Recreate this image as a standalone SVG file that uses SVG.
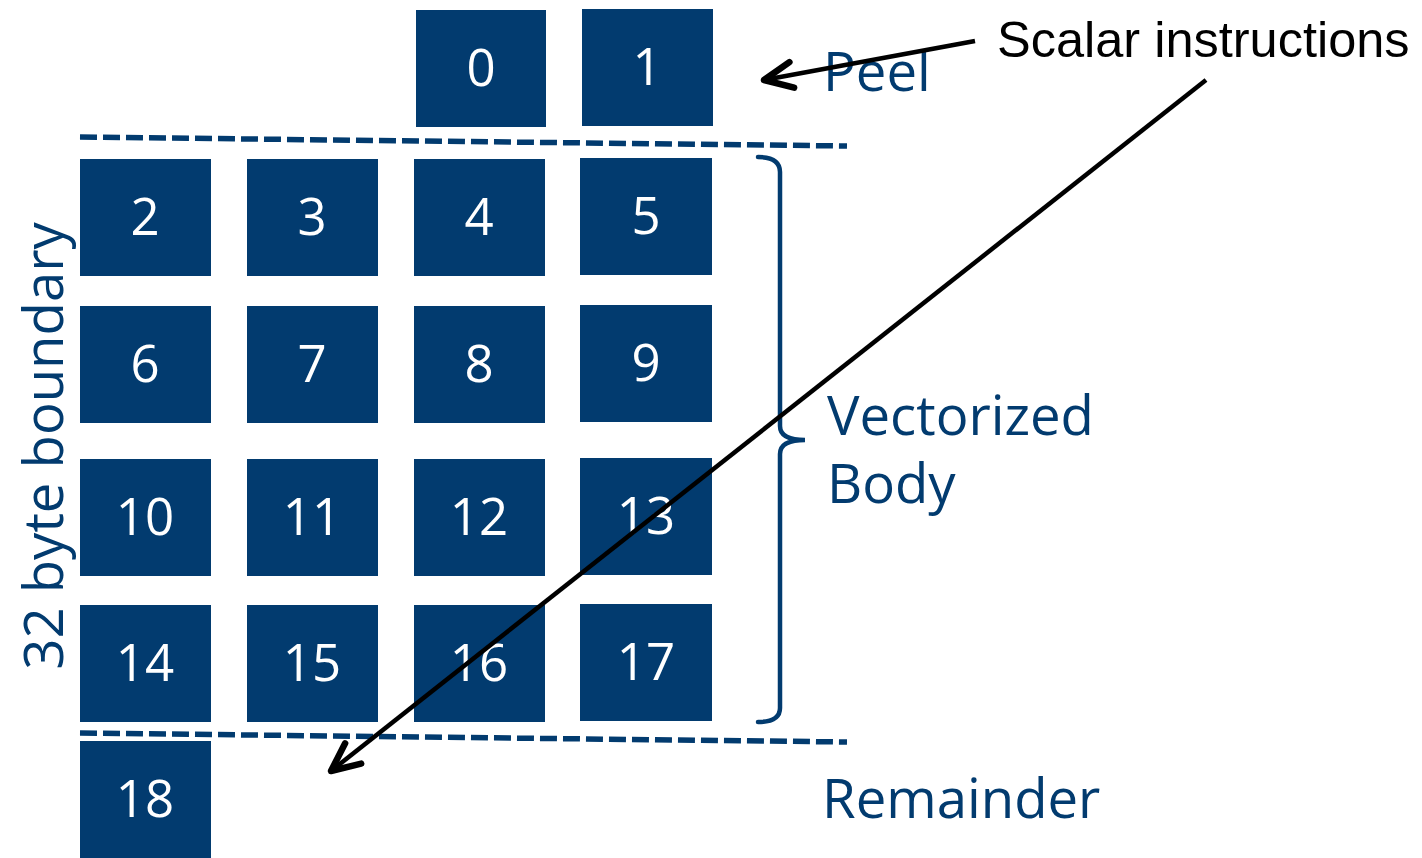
<svg xmlns="http://www.w3.org/2000/svg" width="1422" height="858" viewBox="0 0 1422 858">
  <style>
    .cell { fill: #023B6F; }
    .num { fill: #FFFFFF; font-family: "Open Sans", "Noto Sans", sans-serif; font-size: 51px; text-anchor: middle; }
    .lbl { fill: #023B6F; font-family: "Open Sans", "Noto Sans", sans-serif; font-size: 54.5px; }
    .note { fill: #000000; font-family: "Liberation Sans", Arial, sans-serif; font-size: 50.5px; }
    .split { stroke: #023B6F; stroke-width: 5.5; stroke-dasharray: 17 6; fill: none; }
    .brace { stroke: #023B6F; stroke-width: 4.5; fill: none; stroke-linecap: round; }
    .wire { stroke: #000000; stroke-width: 4.5; fill: none; }
  </style>
  <defs>
    <marker id="vhead" markerUnits="userSpaceOnUse" markerWidth="40" markerHeight="40" viewBox="-30 -15 34 30" refX="0" refY="0" orient="auto">
      <path d="M-24,-11 L0,0 L-24,11" fill="none" stroke="#000000" stroke-width="5.5" stroke-linecap="round" stroke-linejoin="round"/>
    </marker>
  </defs>

  <rect width="1422" height="858" fill="#FFFFFF"/>

  <!-- section boundaries -->
  <g id="boundaries">
    <line class="split" x1="80" y1="137" x2="847" y2="146"/>
    <line class="split" x1="80" y1="733" x2="847" y2="742"/>
  </g>

  <!-- peel elements -->
  <g id="n0"><rect class="cell" x="416" y="10" width="130" height="117"/><text class="num" x="481" y="86">0</text></g>
  <g id="n1"><rect class="cell" x="582" y="9" width="131" height="117"/><text class="num" x="647" y="85">1</text></g>

  <!-- vectorized body -->
  <g id="n2"><rect class="cell" x="80" y="159" width="131" height="117"/><text class="num" x="145" y="235">2</text></g>
  <g id="n3"><rect class="cell" x="247" y="159" width="131" height="117"/><text class="num" x="312" y="235">3</text></g>
  <g id="n4"><rect class="cell" x="414" y="159" width="131" height="117"/><text class="num" x="479" y="235">4</text></g>
  <g id="n5"><rect class="cell" x="580" y="158" width="132" height="117"/><text class="num" x="646" y="234">5</text></g>

  <g id="n6"><rect class="cell" x="80" y="306" width="131" height="117"/><text class="num" x="145" y="382">6</text></g>
  <g id="n7"><rect class="cell" x="247" y="306" width="131" height="117"/><text class="num" x="312" y="382">7</text></g>
  <g id="n8"><rect class="cell" x="414" y="306" width="131" height="117"/><text class="num" x="479" y="382">8</text></g>
  <g id="n9"><rect class="cell" x="580" y="305" width="132" height="117"/><text class="num" x="646" y="381">9</text></g>

  <g id="n10"><rect class="cell" x="80" y="459" width="131" height="117"/><text class="num" x="145" y="535">10</text></g>
  <g id="n11"><rect class="cell" x="247" y="459" width="131" height="117"/><text class="num" x="312" y="535">11</text></g>
  <g id="n12"><rect class="cell" x="414" y="459" width="131" height="117"/><text class="num" x="479" y="535">12</text></g>
  <g id="n13"><rect class="cell" x="580" y="458" width="132" height="117"/><text class="num" x="646" y="534">13</text></g>

  <g id="n14"><rect class="cell" x="80" y="605" width="131" height="117"/><text class="num" x="145" y="681">14</text></g>
  <g id="n15"><rect class="cell" x="247" y="605" width="131" height="117"/><text class="num" x="312" y="681">15</text></g>
  <g id="n16"><rect class="cell" x="414" y="605" width="131" height="117"/><text class="num" x="479" y="681">16</text></g>
  <g id="n17"><rect class="cell" x="580" y="604" width="132" height="117"/><text class="num" x="646" y="680">17</text></g>

  <!-- remainder element -->
  <g id="n18"><rect class="cell" x="80" y="741" width="131" height="117"/><text class="num" x="145" y="817">18</text></g>

  <!-- brace spanning the body rows -->
  <g id="body-brace">
    <path class="brace" d="M758,157 Q780,157 780,172 L780,426 Q780,440 805,440 Q780,440 780,454 L780,708 Q780,722 758,722"/>
  </g>

  <!-- region labels -->
  <g id="labels">
    <text class="lbl" x="823" y="91">Peel</text>
    <text class="lbl" x="827" y="435">Vectorized</text>
    <text class="lbl" x="827" y="503">Body</text>
    <text class="lbl" x="822" y="818">Remainder</text>
    <text class="lbl" transform="translate(63,446) rotate(-90)" text-anchor="middle">32 byte boundary</text>
  </g>

  <!-- callout -->
  <g id="callout">
    <text class="note" x="997" y="57">Scalar instructions</text>
  </g>

  <!-- connectors -->
  <g id="connectors">
    <line class="wire" x1="975" y1="41" x2="764" y2="80" marker-end="url(#vhead)"/>
    <line class="wire" x1="1206" y1="80" x2="331" y2="771" marker-end="url(#vhead)"/>
  </g>
</svg>
